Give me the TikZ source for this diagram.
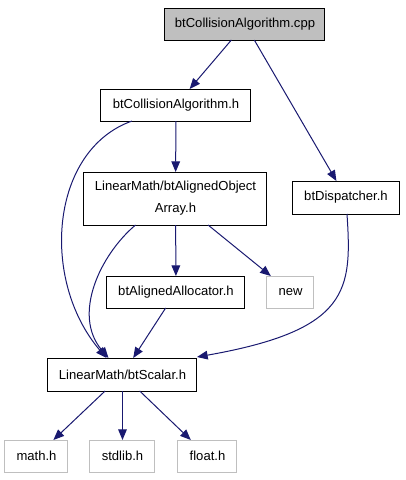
\documentclass[tikz,border=0pt]{standalone}
\usepackage{fontspec}
\setmainfont{Liberation Sans}
\usetikzlibrary{arrows.meta,calc}
\definecolor{edgecol}{HTML}{191970}
\definecolor{extgray}{HTML}{BFBFBF}
\begin{document}
\begin{tikzpicture}[x=0.75pt,y=-0.75pt,
  every node/.style={font=\fontsize{9.8}{16.5}\selectfont, inner sep=0pt, outer sep=0pt},
  filebox/.style={draw=black, line width=0.75pt, rectangle, minimum height=24pt},
  extbox/.style={draw=extgray, line width=0.75pt, rectangle, minimum height=24pt},
  rootbox/.style={filebox, fill=extgray},
  edge/.style={draw=edgecol, line width=0.75pt, -{Triangle[length=8pt,width=6.5pt]}}]
\useasboundingbox (0,0) rectangle (405,480);
\node[rootbox, minimum width=120pt] (cpp) at (245,24) {btCollisionAlgorithm.cpp};
\node[filebox, minimum width=112.5pt] (colh) at (176,105) {btCollisionAlgorithm.h};
\node[filebox, minimum width=137.25pt, minimum height=39.75pt, align=center] (arr) at (175.5,198.5) {LinearMath/btAlignedObject\\Array.h};
\node[filebox, minimum width=80.25pt, minimum height=24.75pt] (disp) at (346,197.5) {btDispatcher.h};
\node[filebox, minimum width=103.5pt] (alloc) at (176,292) {btAlignedAllocator.h};
\node[extbox, minimum width=35.25pt] (new) at (290.5,292) {new};
\node[filebox, minimum width=111.75pt, minimum height=24.75pt] (scalar) at (122.5,374.5) {LinearMath/btScalar.h};
\node[extbox, minimum width=47.25pt] (math) at (36.5,456) {math.h};
\node[extbox, minimum width=48.75pt] (stdlib) at (122.5,456) {stdlib.h};
\node[extbox, minimum width=44.25pt] (float) at (207.5,456) {float.h};

\draw[edge] (cpp) -- (colh);
\draw[edge] (cpp) -- (disp);
\draw[edge] (colh) -- (arr);
\draw[edge] ($(colh.south)+(-44,0)$) .. controls (50,150) and (40,280) .. ($(scalar.north)+(-16,0)$);
\draw[edge] (arr) -- (alloc);
\draw[edge] (arr) -- (new);
\draw[edge] ($(arr.south)+(-40,0)$) .. controls (100,255) and (72,315) .. ($(scalar.north)+(-14,0)$);
\draw[edge] (alloc) -- (scalar);
\draw[edge] ($(disp.south)+(1,0)$) .. controls (352,290) and (350,330) .. ($(scalar.north east)+(0,-1)$);
\draw[edge] (scalar) -- (math);
\draw[edge] (scalar) -- (stdlib);
\draw[edge] (scalar) -- (float);
\end{tikzpicture}
\end{document}
